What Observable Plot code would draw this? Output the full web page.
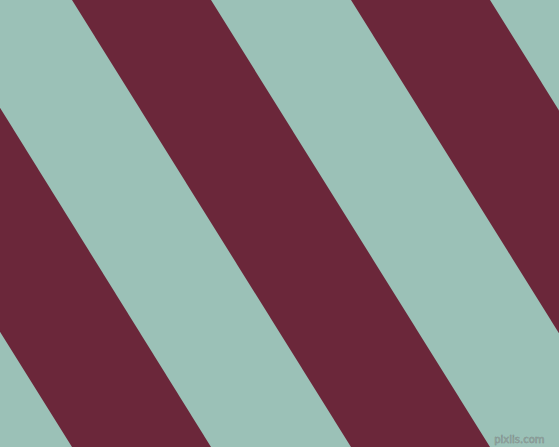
<!DOCTYPE html>
<html>
<head>
<meta charset="utf-8">
<script src="https://cdn.jsdelivr.net/npm/d3@7"></script>
<script src="https://cdn.jsdelivr.net/npm/@observablehq/plot@0.6"></script>
<style>
  html, body { margin: 0; padding: 0; background: #9bc1b7; overflow: hidden; }
  svg { display: block; }
</style>
</head>
<body>
<div id="chart"></div>
<script>
// Diagonal stripe data: x-position of each maroon stripe's edges at the top (y=0) and bottom (y=447)
const stripeIds   = ["s1", "s2", "s3", "s4"];
const topLeft     = [-486, -207,  72, 351];
const topRight    = [-346,  -67, 211, 490];
const bottomLeft  = [-207,   72, 351, 630];
const bottomRight = [ -67,  211, 490, 769];
const rowY = [0, 447];
const watermark = ["pixlis.com"];

const table = [];
stripeIds.forEach((id, i) => {
  table.push({id, y: rowY[0], x1: topLeft[i], x2: topRight[i]});
  table.push({id, y: rowY[1], x1: bottomLeft[i], x2: bottomRight[i]});
});

const chart = Plot.plot({
  width: 559,
  height: 447,
  margin: 0,
  style: {background: "#9bc1b7", overflow: "hidden"},
  x: {domain: [0, 559], axis: null},
  y: {domain: [0, 447], reverse: true, axis: null},
  marks: [
    Plot.areaX(table, {y: "y", x1: "x1", x2: "x2", z: "id", fill: "#6b273a", clip: true}),
    Plot.text(watermark, {
      text: d => d,
      frameAnchor: "bottom-right",
      dx: -15, dy: -5,
      fontSize: 10,
      fontFamily: "DejaVu Sans",
      fill: "#8f9f9b",
      stroke: "#6f7a77",
      strokeWidth: 0.4
    })
  ]
});
document.getElementById("chart").appendChild(chart);
</script>
</body>
</html>
